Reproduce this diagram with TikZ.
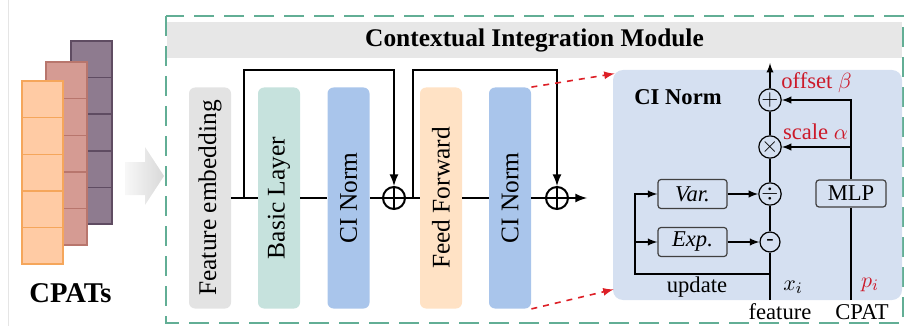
\documentclass[tikz,border=0pt]{standalone}
\usepackage{fontspec}
\setmainfont{Liberation Serif}
\usepackage{graphicx}
\usepackage{xcolor}
\usetikzlibrary{calc,positioning}
\definecolor{fegray}{HTML}{E3E3E3}
\definecolor{mint}{HTML}{C6E2DD}
\definecolor{normblue}{HTML}{A9C5EB}
\definecolor{peach}{HTML}{FFE2C5}
\definecolor{panelblue}{HTML}{D5E0F1}
\definecolor{headgray}{HTML}{E7E7E7}
\definecolor{frameteal}{HTML}{62AE95}
\definecolor{dashred}{HTML}{DD1F26}
\definecolor{lblred}{HTML}{CC1A2A}
\definecolor{orngfill}{HTML}{FFCBA4}
\definecolor{orngline}{HTML}{F5A65B}
\definecolor{rosefill}{HTML}{D59B93}
\definecolor{roseline}{HTML}{B8766D}
\definecolor{purpfill}{HTML}{8E7B8F}
\definecolor{purpline}{HTML}{5F4C62}

\begin{document}
\begin{tikzpicture}[x=0.5pt,y=-0.5pt,>=latex,
	blk/.style={rounded corners=3pt, minimum width=21pt, minimum height=110.5pt, inner sep=0pt, font=\fontsize{12.7}{14}\selectfont},
	sum/.style={draw, circle, line width=1pt, minimum size=11pt, inner sep=0pt,
		path picture={\draw[line width=0.8pt] (path picture bounding box.north) -- (path picture bounding box.south)
			(path picture bounding box.west) -- (path picture bounding box.east);}},
	op/.style={draw, circle, line width=0.6pt, minimum size=10pt, inner sep=0pt, font=\fontsize{11}{12}\selectfont},
	opbox/.style={draw=black!75, fill=panelblue, rounded corners=1.5pt, line width=0.6pt, minimum width=34.5pt, minimum height=14.5pt, inner sep=0pt, font=\fontsize{11.3}{13}\selectfont},
	ptext/.style={inner sep=0pt, font=\fontsize{11.3}{13}\selectfont},
	redlbl/.style={ptext, text=lblred},
	wire/.style={line width=1pt},
	pwire/.style={line width=0.65pt},
	reddash/.style={dashred, dashed, line width=0.8pt},
	purpstk/.style={draw=purpline, fill=purpfill, line width=0.7pt},
	rosestk/.style={draw=roseline, fill=rosefill, line width=0.7pt},
	orngstk/.style={draw=orngline, fill=orngfill, line width=0.7pt}]
\useasboundingbox (0,0) rectangle (904,326);
\draw[gray!20] (8,0) -- (8,326);

% stacked CPATs
\foreach \x/\y/\stk in {71/41/purpstk, 46/62/rosestk, 22/81/orngstk}
	\foreach \i in {0,...,4}
		\draw[\stk] (\x,{\y+36.6*\i}) rectangle ++(41,36.6);
\node[font=\bfseries\fontsize{14.3}{16}\selectfont] (cpats) at (70.5,293) {CPATs};
\shade[left color=gray!6, right color=gray!30] (125,162) -- (145,162) -- (145,147) -- (164,176)
	-- (145,205) -- (145,195) -- (125,195) -- cycle;

% module frame
\node[fill=headgray, minimum width=367.5pt, minimum height=18pt, inner sep=0pt,
	font=\bfseries\fontsize{12.7}{14}\selectfont] (head) at (534.5,40) {Contextual Integration Module};
\draw[frameteal, line width=1.1pt, dash pattern=on 10pt off 5pt] (166,16) rectangle (903,323);

% main path
\node[blk, fill=fegray] (fe) at (210,198) {\rotatebox{90}{Feature embedding}};
\node[blk, fill=mint] (bl) at (279,198) {\rotatebox{90}{Basic Layer}};
\node[blk, fill=normblue] (cn1) at (348.5,198) {\rotatebox{90}{CI Norm}};
\node[sum] (op1) at (394,198) {};
\node[blk, fill=peach] (ff) at (441,198) {\rotatebox{90}{Feed Forward}};
\node[blk, fill=normblue] (cn2) at (510,198) {\rotatebox{90}{CI Norm}};
\node[sum] (op2) at (557,198) {};
\coordinate (out) at (587,198);
\coordinate (s1) at (244,198);
\coordinate (s2) at (413,198);

\draw[wire] (fe) -- (bl) (bl) -- (cn1) (cn1) -- (op1) (op1) -- (ff) (ff) -- (cn2) (cn2) -- (op2);
\draw[wire,->] (op2) -- (out);
\draw[wire,->] (s1) -- ++(0,-128) -| (op1);
\draw[wire,->] (s2) -- ++(0,-128) -| (op2);

% CI Norm detail
\node[fill=panelblue, rounded corners=5pt, minimum width=144.5pt, minimum height=115pt] (ci) at (757.5,185) {};
\draw[reddash,->] (cn2.north east) -- ($(ci.north west)+(2,4)$);
\draw[reddash,->] (cn2.south east) -- ($(ci.south west)+(1,-11)$);
\node[ptext, font=\bfseries\fontsize{11.3}{13}\selectfont] (citl) at (678,97) {CI Norm};

\node[op] (pl) at (770,100) {$+$};
\node[op] (ti) at (770,147) {$\times$};
\node[op] (dv) at (770,194) {$\div$};
\node[op] (mi) at (770,242) {-};
\node[opbox] (var) at (692.5,194) {\textit{Var.}};
\node[opbox] (exp) at (692.5,242) {\textit{Exp.}};
\node[opbox, minimum width=35pt, minimum height=13.5pt] (mlp) at (851,193.5) {MLP};
\coordinate (xin) at (770,300);
\coordinate (xout) at (770,63);
\coordinate (up) at (770,274);
\coordinate (upl) at (635,274);
\coordinate (pin) at (851,300);

\draw[pwire] (xin) -- (mi) -- (dv) -- (ti) -- (pl);
\draw[pwire,->] (pl) -- (xout);
\draw[pwire,->] (up) -- (upl) |- (var);
\draw[pwire,->] (upl |- exp) -- (exp);
\draw[pwire,->] (var) -- (dv);
\draw[pwire,->] (exp) -- (mi);
\draw[pwire] (pin) -- (mlp);
\draw[pwire,->] (mlp) |- (pl);
\draw[pwire,->] (mlp.north |- ti) -- (ti);

\node[redlbl] (beta) at (816.5,83) {offset $\beta$};
\node[redlbl] (alpha) at (815.5,132) {scale $\alpha$};
\node[redlbl] (pi) at (870,285) {$p_i$};
\node[ptext] (xi) at (793,287) {$x_i$};
\node[ptext] (upd) at (697,287) {update};
\node[ptext] (feat) at (780,312) {feature};
\node[ptext] (cpat) at (862,312) {CPAT};
\end{tikzpicture}
\end{document}
